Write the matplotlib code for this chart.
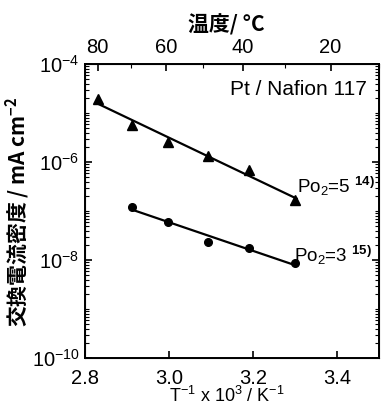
import numpy as np
import matplotlib
matplotlib.use('Agg')
import matplotlib.pyplot as plt
from matplotlib.ticker import FixedLocator, LogLocator, NullFormatter

plt.rcParams['font.family'] = ['Liberation Sans', 'Noto Sans CJK JP', 'DejaVu Sans']
plt.rcParams['mathtext.fontset'] = 'custom'
plt.rcParams['mathtext.rm'] = 'Liberation Sans'
plt.rcParams['mathtext.it'] = 'Liberation Sans:italic'
plt.rcParams['mathtext.bf'] = 'Liberation Sans:bold'
plt.rcParams['mathtext.default'] = 'regular'

# data
inv_t_po5 = [2.831, 2.913, 2.998, 3.094, 3.190, 3.299]
j0_po5 = [1.94e-5, 5.7e-6, 2.6e-6, 1.35e-6, 7.0e-7, 1.64e-7]
inv_t_po3 = [2.913, 2.998, 3.094, 3.190, 3.299]
j0_po3 = [1.23e-7, 5.9e-8, 2.3e-8, 1.8e-8, 8.6e-9]

x_ticks = [2.8, 3.0, 3.2, 3.4]
y_ticks = [1e-10, 1e-8, 1e-6, 1e-4]
temp_ticks = [80, 60, 40, 20]
temp_minor = [80, 70, 60, 50, 40, 30, 20, 10]

fig = plt.figure(figsize=(3.82, 4.08), dpi=100)
ax = fig.add_axes([0.2225, 0.1225, 0.7696, 0.7206])


def fit_line(x, y):
    x = np.array(x)
    k, b = np.polyfit(x, np.log10(y), 1)
    xx = np.array([x[0], x[-1] + 0.005])
    return xx, 10 ** (k * xx + b)


ax.plot(inv_t_po5, j0_po5, '^', color='black', markersize=6.5)
ax.plot(*fit_line(inv_t_po5, j0_po5), color='black', lw=1.6)
ax.plot(inv_t_po3, j0_po3, 'o', color='black', markersize=5.5)
ax.plot(*fit_line(inv_t_po3, j0_po3), color='black', lw=1.6)

ax.set_yscale('log')
ax.set_xlim(2.8, 3.5)
ax.set_ylim(1e-10, 1e-4)
ax.xaxis.set_major_locator(FixedLocator(x_ticks))
ax.set_xticklabels([f'{v:.1f}' for v in x_ticks])
ax.yaxis.set_major_locator(FixedLocator(y_ticks))
ax.yaxis.set_minor_locator(LogLocator(base=10, subs=np.arange(1, 10), numticks=20))
ax.yaxis.set_minor_formatter(NullFormatter())
ax.tick_params(which='major', direction='in', length=5, width=1.2, labelsize=14.5, right=True)
ax.tick_params(which='minor', direction='in', length=3, width=0.8, right=True)
ax.tick_params(axis='x', which='major', pad=8)
ax.tick_params(axis='y', which='major', pad=4)
ax.tick_params(axis='x', which='minor', bottom=False)
for s in ax.spines.values():
    s.set_linewidth(1.4)

# top axis in deg C
top = ax.twiny()
top.set_xlim(ax.get_xlim())
top.set_xticks([1000 / (t + 273.15) for t in temp_ticks])
top.set_xticklabels([str(t) for t in temp_ticks])
top.set_xticks([1000 / (t + 273.15) for t in temp_minor], minor=True)
top.tick_params(which='major', direction='in', length=5, width=1.2, labelsize=14.5, pad=5)
top.tick_params(which='minor', direction='in', length=3, width=0.8)

ax.text(0.96, 0.915, 'Pt / Nafion 117', transform=ax.transAxes, ha='right', va='center', fontsize=15)
ax.text(0.72, 0.585, r'Po$_2$=5 $^{\mathbf{14)}}$', transform=ax.transAxes, ha='left', va='center', fontsize=13.5)
ax.text(0.71, 0.35, r'Po$_2$=3 $^{\mathbf{15)}}$', transform=ax.transAxes, ha='left', va='center', fontsize=13.5)

fig.text(18 / 382, 1 - 212 / 408, '交換電流密度 / mA cm$^{-2}$', rotation=90, ha='center', va='center',
         fontsize=15, fontweight='bold', family=['Noto Sans CJK JP', 'DejaVu Sans'])
fig.text(226 / 382, 1 - 25 / 408, '温度/ °C', ha='center', va='center',
         fontsize=15, fontweight='bold', family=['Noto Sans CJK JP', 'DejaVu Sans'])
fig.text(227 / 382, 1.5 / 408, 'T$^{-1}$ x 10$^{3}$ / K$^{-1}$', ha='center', va='bottom', fontsize=13)

fig.savefig('out.png', dpi=100)
